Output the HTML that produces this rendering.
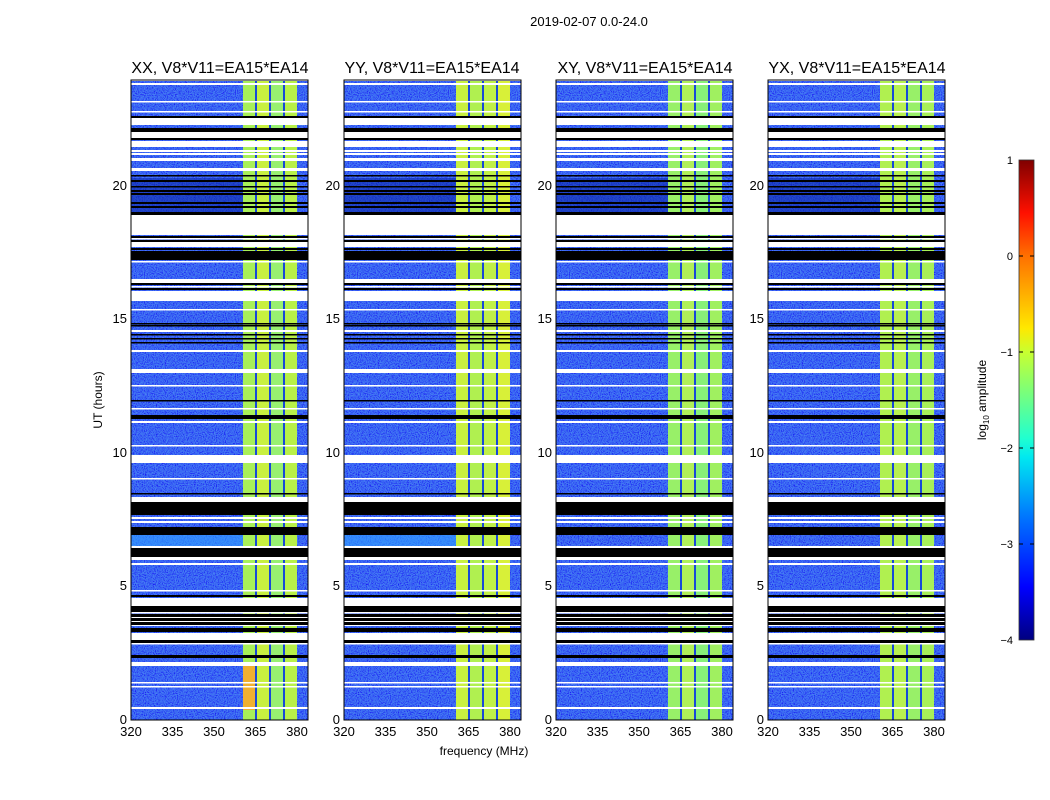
<!DOCTYPE html>
<html><head><meta charset="utf-8"><style>
body{margin:0;background:#fff;}
svg{display:block;font-family:"Liberation Sans",sans-serif;}
</style></head><body>
<svg width="1050" height="800" viewBox="0 0 1050 800" xmlns="http://www.w3.org/2000/svg">
<defs>
<filter id="nz" x="0" y="0" width="100%" height="100%">
<feTurbulence type="fractalNoise" baseFrequency="0.9" numOctaves="1" seed="3"/>
<feColorMatrix type="matrix" values="0.4 0 0 0 -0.1  1.4 0 0 0 -0.45  0 0 0 0 1  0 0 0 0 1"/>
</filter>
<linearGradient id="jet" x1="0" y1="1" x2="0" y2="0">
<stop offset="0" stop-color="#000080"/><stop offset="0.11" stop-color="#0000ff"/>
<stop offset="0.25" stop-color="#0070ff"/><stop offset="0.38" stop-color="#00e8f0"/>
<stop offset="0.42" stop-color="#20ffd0"/><stop offset="0.6" stop-color="#c8ff30"/>
<stop offset="0.65" stop-color="#ffe800"/><stop offset="0.8" stop-color="#ff7000"/>
<stop offset="0.89" stop-color="#ff1000"/><stop offset="1" stop-color="#800000"/>
</linearGradient>
<g id="flags">
<g fill="#fff">
<rect x="0" y="0" width="177" height="1"/><rect x="0" y="3" width="177" height="2"/>
<rect x="0" y="21" width="177" height="1.5"/><rect x="0" y="31" width="177" height="1.5"/>
<rect x="0" y="38" width="177" height="7"/><rect x="0" y="52" width="177" height="6"/>
<rect x="0" y="61" width="177" height="6"/><rect x="0" y="70" width="177" height="2"/>
<rect x="0" y="73" width="177" height="2"/><rect x="0" y="78" width="177" height="3"/>
<rect x="0" y="88" width="177" height="3"/>
<rect x="0" y="135" width="177" height="20"/><rect x="0" y="158" width="177" height="1.5"/>
<rect x="0" y="162" width="177" height="5"/><rect x="0" y="181" width="177" height="1.5"/>
<rect x="0" y="199" width="177" height="4"/><rect x="0" y="206" width="177" height="1.5"/>
<rect x="0" y="211" width="177" height="10"/><rect x="0" y="229" width="177" height="1.5"/>
<rect x="0" y="250" width="177" height="2"/><rect x="0" y="270" width="177" height="2"/>
<rect x="0" y="289" width="177" height="4"/><rect x="0" y="305" width="177" height="1.5"/>
<rect x="0" y="328" width="177" height="1.5"/><rect x="0" y="341" width="177" height="2"/>
<rect x="0" y="365" width="177" height="1.5"/><rect x="0" y="375" width="177" height="8"/>
<rect x="0" y="398" width="177" height="1.5"/><rect x="0" y="417" width="177" height="5"/>
<rect x="0" y="437" width="177" height="2"/><rect x="0" y="441" width="177" height="2"/>
<rect x="0" y="466" width="177" height="2"/><rect x="0" y="477" width="177" height="3"/>
<rect x="0" y="483" width="177" height="2"/>
<rect x="0" y="510" width="177" height="1.5"/><rect x="0" y="518" width="177" height="8"/>
<rect x="0" y="532" width="177" height="1.5"/><rect x="0" y="537" width="177" height="1"/>
<rect x="0" y="541" width="177" height="1"/><rect x="0" y="545" width="177" height="1"/>
<rect x="0" y="553" width="177" height="7"/><rect x="0" y="563" width="177" height="1.5"/>
<rect x="0" y="582" width="177" height="4"/><rect x="0" y="602" width="177" height="1.5"/>
<rect x="0" y="606" width="177" height="1.5"/><rect x="0" y="627" width="177" height="2"/>
</g>
<g fill="#000">
<rect x="0" y="36" width="177" height="2"/><rect x="0" y="48" width="177" height="4"/>
<rect x="0" y="58" width="177" height="2"/><rect x="0" y="95" width="177" height="1.5"/>
<rect x="0" y="100" width="177" height="2"/><rect x="0" y="106" width="177" height="1.5"/>
<rect x="0" y="110" width="177" height="2"/><rect x="0" y="113" width="177" height="2"/>
<rect x="0" y="122" width="177" height="2"/><rect x="0" y="126" width="177" height="2"/>
<rect x="0" y="132" width="177" height="3"/><rect x="0" y="156" width="177" height="2"/>
<rect x="0" y="160" width="177" height="2"/><rect x="0" y="168" width="177" height="2"/>
<rect x="0" y="171" width="177" height="9"/><rect x="0" y="203" width="177" height="2"/>
<rect x="0" y="208" width="177" height="2"/><rect x="0" y="243" width="177" height="1.5"/>
<rect x="0" y="245" width="177" height="1.5"/><rect x="0" y="254" width="177" height="1.5"/>
<rect x="0" y="258" width="177" height="1.5"/><rect x="0" y="262" width="177" height="1.5"/>
<rect x="0" y="320" width="177" height="1.5"/><rect x="0" y="335" width="177" height="4"/>
<rect x="0" y="413" width="177" height="1.5"/><rect x="0" y="422" width="177" height="13"/>
<rect x="0" y="447" width="177" height="8"/><rect x="0" y="468" width="177" height="9"/>
<rect x="0" y="515" width="177" height="2"/><rect x="0" y="526" width="177" height="6"/>
<rect x="0" y="534" width="177" height="3"/><rect x="0" y="538" width="177" height="3"/>
<rect x="0" y="542" width="177" height="3"/><rect x="0" y="548" width="177" height="4"/>
<rect x="0" y="560" width="177" height="3"/><rect x="0" y="575" width="177" height="3"/>
</g>
</g>
<g id="bg">
<rect width="177" height="640" fill="#1a44e8"/>
<rect width="177" height="640" filter="url(#nz)" opacity="0.5"/>
<rect x="0" y="98" width="112" height="40" fill="#0a25a0" opacity="0.55"/>
</g>
<g id="vl" fill="#1848d8"><rect x="124" y="0" width="2" height="640"/><rect x="138" y="0" width="2" height="640"/><rect x="152" y="0" width="2" height="640"/></g>
</defs>

<text x="589" y="26" font-size="13" text-anchor="middle">2019-02-07 0.0-24.0</text>

<g transform="translate(131,80)">
<use href="#bg"/>
<rect x="0" y="453" width="112" height="14" fill="#30a0ff" opacity="0.6"/>
<rect x="112" y="0" width="13" height="640" fill="#a8f058"/>
<rect x="125" y="0" width="14" height="640" fill="#c8f040"/>
<rect x="139" y="0" width="14" height="640" fill="#98f070"/>
<rect x="153" y="0" width="13" height="640" fill="#b8f048"/>
<rect x="112" y="585" width="13" height="45" fill="#f0b030"/>
<use href="#vl"/>
<use href="#flags"/>
</g>
<g transform="translate(344,80)">
<use href="#bg"/>
<rect x="0" y="453" width="112" height="14" fill="#30a0ff" opacity="0.6"/>
<rect x="112" y="0" width="13" height="640" fill="#c8f040"/>
<rect x="125" y="0" width="14" height="640" fill="#b0f050"/>
<rect x="139" y="0" width="14" height="640" fill="#c0f048"/>
<rect x="153" y="0" width="13" height="640" fill="#d8f038"/>
<use href="#vl"/>
<use href="#flags"/>
</g>
<g transform="translate(556,80)">
<use href="#bg"/>
<rect x="112" y="0" width="13" height="640" fill="#98f068"/>
<rect x="125" y="0" width="14" height="640" fill="#b0f058"/>
<rect x="139" y="0" width="14" height="640" fill="#88f078"/>
<rect x="153" y="0" width="13" height="640" fill="#a0f060"/>
<use href="#vl"/>
<use href="#flags"/>
</g>
<g transform="translate(768,80)">
<use href="#bg"/>
<rect x="112" y="0" width="13" height="640" fill="#b0f050"/>
<rect x="125" y="0" width="14" height="640" fill="#b8f050"/>
<rect x="139" y="0" width="14" height="640" fill="#98f068"/>
<rect x="153" y="0" width="13" height="640" fill="#a8f058"/>
<use href="#vl"/>
<use href="#flags"/>
</g>

<g font-size="13" fill="#000">
<rect x="131" y="80" width="177" height="640" fill="none" stroke="#000"/>
<rect x="344" y="80" width="177" height="640" fill="none" stroke="#000"/>
<rect x="556" y="80" width="177" height="640" fill="none" stroke="#000"/>
<rect x="768" y="80" width="177" height="640" fill="none" stroke="#000"/>

<g font-size="16" text-anchor="middle">
<text x="220" y="73">XX, V8*V11=EA15*EA14</text>
<text x="432" y="73">YY, V8*V11=EA15*EA14</text>
<text x="645" y="73">XY, V8*V11=EA15*EA14</text>
<text x="857" y="73">YX, V8*V11=EA15*EA14</text>
</g>

<g text-anchor="middle">
<text x="131" y="736">320</text><text x="172.5" y="736">335</text><text x="214" y="736">350</text><text x="255.5" y="736">365</text><text x="297" y="736">380</text>
<text x="344" y="736">320</text><text x="385.5" y="736">335</text><text x="427" y="736">350</text><text x="468.5" y="736">365</text><text x="510" y="736">380</text>
<text x="556" y="736">320</text><text x="597.5" y="736">335</text><text x="639" y="736">350</text><text x="680.5" y="736">365</text><text x="722" y="736">380</text>
<text x="768" y="736">320</text><text x="809.5" y="736">335</text><text x="851" y="736">350</text><text x="892.5" y="736">365</text><text x="934" y="736">380</text>
</g>
<g text-anchor="end">
<text x="127" y="724">0</text><text x="127" y="590">5</text><text x="127" y="457">10</text><text x="127" y="323">15</text><text x="127" y="190">20</text>
<text x="340" y="724">0</text><text x="340" y="590">5</text><text x="340" y="457">10</text><text x="340" y="323">15</text><text x="340" y="190">20</text>
<text x="552" y="724">0</text><text x="552" y="590">5</text><text x="552" y="457">10</text><text x="552" y="323">15</text><text x="552" y="190">20</text>
<text x="764" y="724">0</text><text x="764" y="590">5</text><text x="764" y="457">10</text><text x="764" y="323">15</text><text x="764" y="190">20</text>
</g>
<text x="484" y="755" text-anchor="middle" font-size="12">frequency (MHz)</text>
<text transform="translate(102,400) rotate(-90)" text-anchor="middle" font-size="12">UT (hours)</text>
</g>

<rect x="1019" y="160" width="15" height="480" fill="url(#jet)" stroke="#333" stroke-width="0.8"/>
<g font-size="11" text-anchor="end">
<text x="1013" y="164">1</text><text x="1013" y="260">0</text><text x="1013" y="356">−1</text>
<text x="1013" y="452">−2</text><text x="1013" y="548">−3</text><text x="1013" y="644">−4</text>
</g>
<g stroke="#000" stroke-width="1"><line x1="1019" y1="256" x2="1023" y2="256"/><line x1="1030" y1="256" x2="1034" y2="256"/>
<line x1="1019" y1="352" x2="1023" y2="352"/><line x1="1030" y1="352" x2="1034" y2="352"/>
<line x1="1019" y1="448" x2="1023" y2="448"/><line x1="1030" y1="448" x2="1034" y2="448"/>
<line x1="1019" y1="544" x2="1023" y2="544"/><line x1="1030" y1="544" x2="1034" y2="544"/></g>
<text transform="translate(986,400) rotate(-90)" text-anchor="middle" font-size="12">log<tspan font-size="8" dy="3">10</tspan><tspan dy="-3"> amplitude</tspan></text>
</svg>
</body></html>
